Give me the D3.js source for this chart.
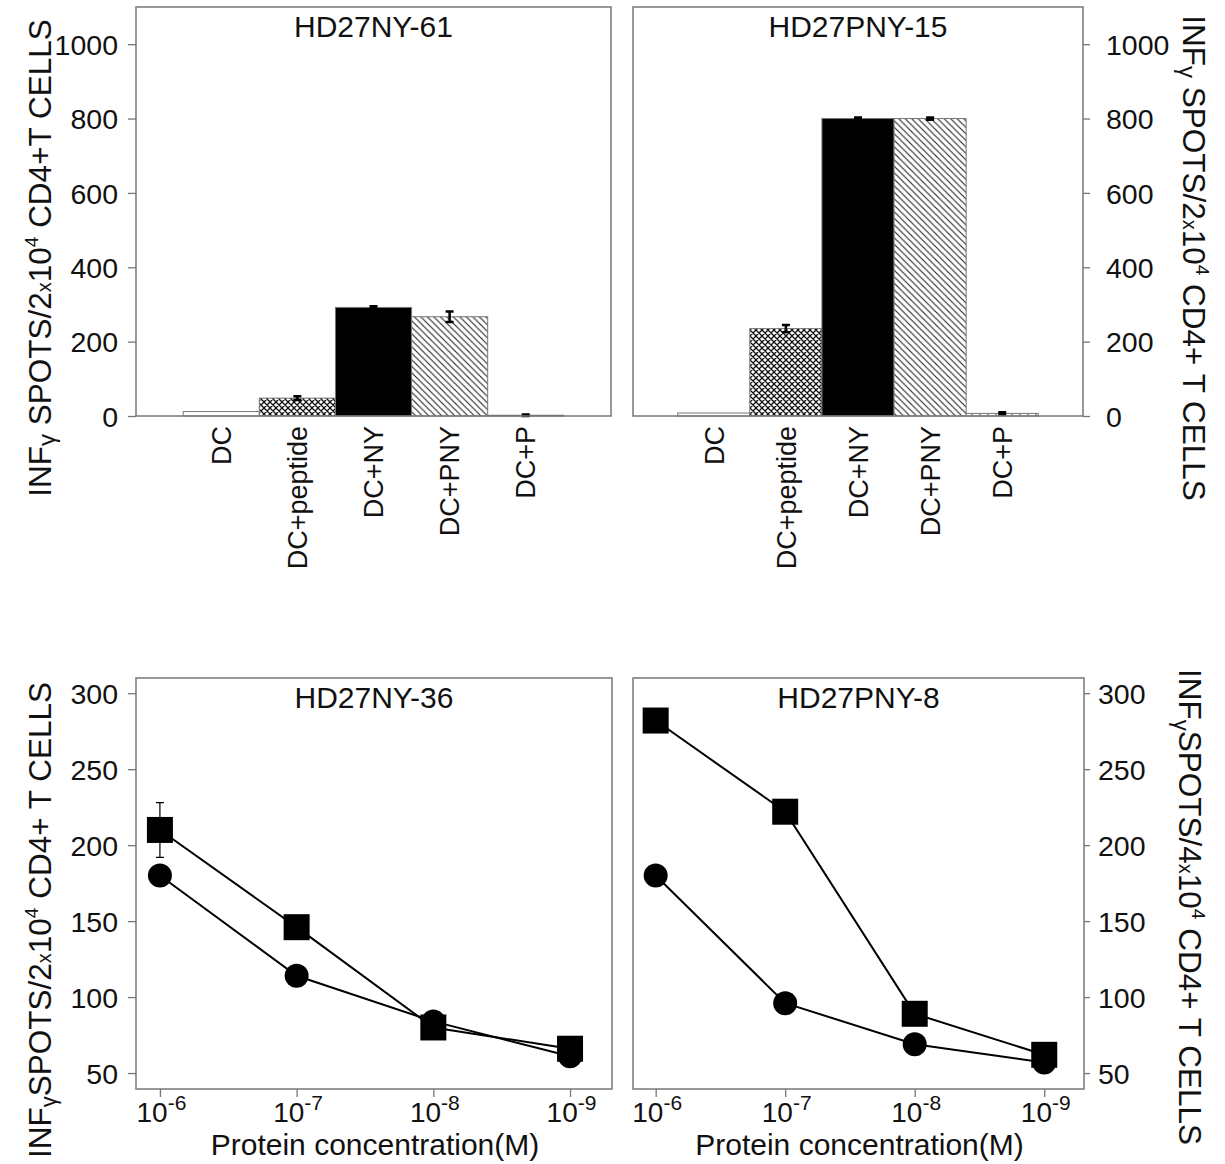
<!DOCTYPE html>
<html><head><meta charset="utf-8">
<script src="https://cdn.jsdelivr.net/npm/d3@7"></script>
<style>
html,body{margin:0;padding:0;background:#fff;}
svg{display:block;font-family:"Liberation Sans",Arial,sans-serif;}
</style></head>
<body><svg id="chart" width="1225" height="1164"></svg>
<script>
// ---------- data ----------
const categories = ["DC", "DC+peptide", "DC+NY", "DC+PNY", "DC+P"];
const ny61Values = [12, 48, 292, 267, 2];
const ny61Errors = [0, 5, 3, 14, 2];
const pny15Values = [8, 235, 800, 800, 7];
const pny15Errors = [0, 10, 3, 3, 3];
const barTicks = [0, 200, 400, 600, 800, 1000];

const concentrations = [1e-6, 1e-7, 1e-8, 1e-9];
const concExponents = ["-6", "-7", "-8", "-9"];
const ny36Squares = [210, 146, 80, 66];
const ny36SquareErrors = [18, 0, 0, 0];
const ny36Circles = [180, 114, 84, 61];
const pny8Squares = [282, 222, 89, 62];
const pny8Circles = [180, 96, 69, 57];
const lineTicks = [50, 100, 150, 200, 250, 300];

// ---------- setup ----------
const svg = d3.select("#chart");
svg.append("rect").attr("width", 1225).attr("height", 1164).attr("fill", "#fff");
const FRAME = "#777";
const defs = svg.append("defs");

const pCross = defs.append("pattern").attr("id", "cross").attr("patternUnits", "userSpaceOnUse")
  .attr("width", 6).attr("height", 6);
pCross.append("rect").attr("width", 6).attr("height", 6).attr("fill", "#fff");
pCross.append("path").attr("d", "M0,0L6,6M6,0L0,6M-1,5L1,7M5,-1L7,1M-1,1L1,-1M5,7L7,5")
  .attr("stroke", "#111").attr("stroke-width", 1.3);

const pDiag = defs.append("pattern").attr("id", "diag").attr("patternUnits", "userSpaceOnUse")
  .attr("width", 6.5).attr("height", 6.5);
pDiag.append("rect").attr("width", 6.5).attr("height", 6.5).attr("fill", "#fff");
pDiag.append("path").attr("d", "M0,0L6.5,6.5M-3.25,3.25L3.25,9.75M3.25,-3.25L9.75,3.25")
  .attr("stroke", "#222").attr("stroke-width", 1.1);

const pVert = defs.append("pattern").attr("id", "vert").attr("patternUnits", "userSpaceOnUse")
  .attr("width", 8).attr("height", 8);
pVert.append("rect").attr("width", 8).attr("height", 8).attr("fill", "#fff");
pVert.append("path").attr("d", "M4,0L4,8").attr("stroke", "#555").attr("stroke-width", 1.2);

const barFills = ["#fff", "url(#cross)", "#000", "url(#diag)", "url(#vert)"];

function styleAxis(g, fs) {
  g.select(".domain").remove();
  g.selectAll(".tick line").attr("stroke", FRAME).attr("stroke-width", 1.3);
  g.selectAll(".tick text").attr("font-size", fs).attr("fill", "#111")
    .attr("font-family", '"Liberation Sans",Arial,sans-serif');
}

function yTitle(x, y, rot, parts) {
  const t = svg.append("text").attr("transform", `translate(${x},${y}) rotate(${rot})`)
    .attr("text-anchor", "middle").attr("font-size", 31.5).attr("fill", "#111");
  parts.forEach(p => {
    const ts = t.append("tspan").text(p.t);
    if (p.fs) ts.attr("font-size", p.fs);
    if (p.dy) ts.attr("dy", p.dy);
  });
}

// ---------- bar panels ----------
const barPanels = [
  {title: "HD27NY-61", values: ny61Values, errors: ny61Errors, x0: 136, x1: 611, side: "left"},
  {title: "HD27PNY-15", values: pny15Values, errors: pny15Errors, x0: 633, x1: 1083, side: "right"}
];
const yBar = d3.scaleLinear().domain([0, 1100]).range([416, 7]);

barPanels.forEach(p => {
  const x = d3.scaleBand().domain(categories).range([p.x0, p.x1]).paddingInner(0).paddingOuter(0.62);
  const g = svg.append("g");
  g.selectAll("rect.bar").data(categories).join("rect").attr("class", "bar")
    .attr("x", d => x(d)).attr("width", x.bandwidth())
    .attr("y", (d, i) => yBar(p.values[i])).attr("height", (d, i) => yBar(0) - yBar(p.values[i]))
    .attr("fill", (d, i) => barFills[i]).attr("stroke", FRAME).attr("stroke-width", 1);
  categories.forEach((c, i) => {
    const e = p.errors[i];
    if (!e) return;
    const cx = x(c) + x.bandwidth() / 2;
    const v = p.values[i];
    g.append("path").attr("d",
      `M${cx},${yBar(v + e)}L${cx},${yBar(v - e)}M${cx - 4},${yBar(v + e)}L${cx + 4},${yBar(v + e)}M${cx - 4},${yBar(v - e)}L${cx + 4},${yBar(v - e)}`)
      .attr("stroke", "#000").attr("stroke-width", 2.5).attr("fill", "none");
  });
  svg.append("rect").attr("x", p.x0).attr("y", yBar(1100)).attr("width", p.x1 - p.x0)
    .attr("height", yBar(0) - yBar(1100)).attr("fill", "none").attr("stroke", FRAME).attr("stroke-width", 1.5);
  const ax = p.side === "left"
    ? d3.axisLeft(yBar).tickValues(barTicks).tickSize(8).tickPadding(10)
    : d3.axisRight(yBar).tickValues(barTicks).tickSize(7).tickPadding(16);
  ax.tickFormat(d3.format("d"));
  const ag = svg.append("g").attr("transform", `translate(${p.side === "left" ? p.x0 : p.x1},0)`).call(ax);
  styleAxis(ag, 28.5);
  ag.selectAll(".tick text").attr("dy", "0.36em");
  svg.append("g").selectAll("text").data(categories).join("text")
    .attr("transform", d => `translate(${x(d) + x.bandwidth() / 2},426) rotate(-90)`)
    .attr("text-anchor", "end").attr("dy", "0.36em").attr("font-size", 27).attr("fill", "#111")
    .text(d => d);
  svg.append("text").attr("x", (p.x0 + p.x1) / 2).attr("y", 37).attr("text-anchor", "middle")
    .attr("font-size", 30).attr("fill", "#111").text(p.title);
});

// ---------- line panels ----------
const linePanels = [
  {title: "HD27NY-36", squares: ny36Squares, squareErr: ny36SquareErrors, circles: ny36Circles, x0: 136, x1: 612, side: "left"},
  {title: "HD27PNY-8", squares: pny8Squares, squareErr: [0, 0, 0, 0], circles: pny8Circles, x0: 633, x1: 1084, side: "right"}
];
const yLine = d3.scaleLinear().domain([39.5, 310]).range([1089, 678]);

linePanels.forEach(p => {
  const x = d3.scaleLog().domain([Math.pow(10, -5.825), Math.pow(10, -9.307)]).range([p.x0, p.x1]);
  svg.append("rect").attr("x", p.x0).attr("y", yLine(310)).attr("width", p.x1 - p.x0)
    .attr("height", yLine(39.5) - yLine(310)).attr("fill", "none").attr("stroke", FRAME).attr("stroke-width", 1.5);
  const ax = p.side === "left"
    ? d3.axisLeft(yLine).tickValues(lineTicks).tickSize(8).tickPadding(10)
    : d3.axisRight(yLine).tickValues(lineTicks).tickSize(6).tickPadding(8);
  ax.tickFormat(d3.format("d"));
  const ag = svg.append("g").attr("transform", `translate(${p.side === "left" ? p.x0 : p.x1},0)`).call(ax);
  styleAxis(ag, 28.5);
  ag.selectAll(".tick text").attr("dy", "0.36em");

  const xa = d3.axisBottom(x).tickValues(concentrations).tickSize(8).tickFormat("");
  const xg = svg.append("g").attr("transform", `translate(0,${yLine(39.5)})`).call(xa);
  styleAxis(xg, 28);
  xg.selectAll(".tick").each(function (d, i) {
    const t = d3.select(this).append("text").attr("y", 33).attr("x", 1).attr("text-anchor", "middle")
      .attr("fill", "#111").attr("font-size", 28);
    t.append("tspan").text("10");
    t.append("tspan").attr("font-size", 21).attr("dy", -12).text(concExponents[i]);
  });
  svg.append("text").attr("x", (p.x0 + p.x1) / 2 + 1).attr("y", 1155).attr("text-anchor", "middle")
    .attr("font-size", 30).attr("fill", "#111").text("Protein concentration(M)");

  const line = d3.line().x((d, i) => x(concentrations[i])).y(d => yLine(d));
  svg.append("path").attr("d", line(p.circles)).attr("fill", "none").attr("stroke", "#000").attr("stroke-width", 2);
  svg.append("path").attr("d", line(p.squares)).attr("fill", "none").attr("stroke", "#000").attr("stroke-width", 2);
  p.squares.forEach((v, i) => {
    const e = p.squareErr[i];
    if (!e) return;
    const cx = x(concentrations[i]);
    svg.append("path").attr("d",
      `M${cx},${yLine(v + e)}L${cx},${yLine(v - e)}M${cx - 4},${yLine(v + e)}L${cx + 4},${yLine(v + e)}M${cx - 4},${yLine(v - e)}L${cx + 4},${yLine(v - e)}`)
      .attr("stroke", "#000").attr("stroke-width", 1.2).attr("fill", "none");
  });
  svg.append("g").selectAll("circle").data(p.circles).join("circle")
    .attr("cx", (d, i) => x(concentrations[i])).attr("cy", d => yLine(d)).attr("r", 12).attr("fill", "#000");
  svg.append("g").selectAll("rect").data(p.squares).join("rect")
    .attr("x", (d, i) => x(concentrations[i]) - 13).attr("y", d => yLine(d) - 13)
    .attr("width", 26).attr("height", 26).attr("fill", "#000");
  svg.append("text").attr("x", (p.x0 + p.x1) / 2).attr("y", 708).attr("text-anchor", "middle")
    .attr("font-size", 30).attr("fill", "#111").text(p.title);
});

// ---------- y axis titles ----------
yTitle(51, 258, -90, [{t: "INF"}, {t: "γ", fs: 24, dy: 4}, {t: " SPOTS/2", dy: -4}, {t: "x", fs: 20}, {t: "10"}, {t: "4", fs: 19, dy: -13}, {t: " CD4+T CELLS", dy: 13}]);
yTitle(51, 920, -90, [{t: "INF"}, {t: "γ", fs: 22, dy: 5}, {t: "SPOTS/2", dy: -5}, {t: "x", fs: 20}, {t: "10"}, {t: "4", fs: 19, dy: -13}, {t: " CD4+ T CELLS", dy: 13}]);
yTitle(1183, 258, 90, [{t: "INF"}, {t: "γ", fs: 24, dy: 4}, {t: " SPOTS/2", dy: -4}, {t: "x", fs: 20}, {t: "10"}, {t: "4", fs: 19, dy: -13}, {t: " CD4+ T CELLS", dy: 13}]);
yTitle(1179, 907, 90, [{t: "INF"}, {t: "γ", fs: 22, dy: 5}, {t: "SPOTS/4", dy: -5}, {t: "x", fs: 20}, {t: "10"}, {t: "4", fs: 19, dy: -13}, {t: " CD4+ T CELLS", dy: 13}]);
</script>
</body></html>
